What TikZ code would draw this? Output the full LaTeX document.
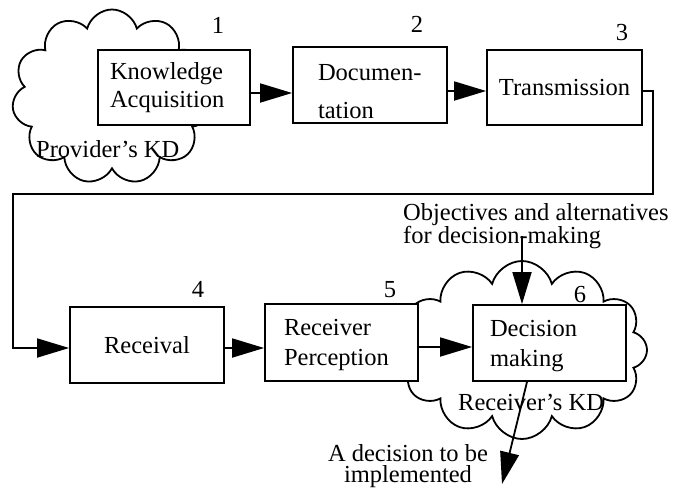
\documentclass[tikz,border=0pt]{standalone}
\usepackage{fontspec}
\setmainfont{Liberation Serif}
\usetikzlibrary{arrows.meta,shapes.symbols}
\begin{document}
\begin{tikzpicture}[x=1pt,y=-1pt,
  every node/.style={font=\fontsize{24.5}{28}\selectfont},
  stage/.style={draw, fill=white, line width=1.8pt, inner ysep=0pt},
  flow/.style={line width=1.8pt, -{Triangle[length=32pt,width=19pt]}},
  kd/.style={cloud, draw, line width=1.8pt, cloud ignores aspect, inner sep=0pt},
  num/.style={anchor=base, inner sep=0pt},
  note/.style={inner sep=0pt},
]
\useasboundingbox (0,0) rectangle (675,490);

% knowledge domains of provider and receiver
\node[kd, cloud puffs=11, minimum width=200pt, minimum height=175pt] (kdp) at (112,97) {};
\node[kd, cloud puffs=12, minimum width=250pt, minimum height=178pt] (kdr) at (522,350) {};

% process stages
\node[stage, minimum width=152pt, minimum height=75pt, text width=128pt, inner xsep=12pt, align=left]
  (b1) at (174,87.5) {Knowledge\\Acquisition};
\node[stage, minimum width=154pt, minimum height=76pt, text width=104pt, inner xsep=25pt, align=left,
  font=\fontsize{24.5}{38}\selectfont]
  (b2) at (370,85) {\rule{0pt}{30pt}Documen-\\tation};
\node[stage, minimum width=155pt, minimum height=75pt, align=center]
  (b3) at (564.5,87.5) {Transmission};
\node[stage, minimum width=154pt, minimum height=76pt, align=center]
  (b4) at (147,345) {Receival};
\node[stage, minimum width=153pt, minimum height=77pt, text width=115pt, inner xsep=19pt, align=left,
  font=\fontsize{24.5}{30}\selectfont]
  (b5) at (341.5,342.5) {\rule{0pt}{22pt}Receiver\\Perception};
\node[stage, minimum width=153pt, minimum height=76pt, text width=119pt, inner xsep=17pt, align=left,
  font=\fontsize{24.5}{30}\selectfont]
  (b6) at (549.5,343) {\rule{0pt}{22pt}Decision\\making};

% stage numbers
\node[num] (n1) at (218,33) {1};
\node[num] (n2) at (417,32) {2};
\node[num] (n3) at (622,40) {3};
\node[num] (n4) at (198,297) {4};
\node[num] (n5) at (390,297) {5};
\node[num] (n6) at (580,302) {6};

% flow levels and bends
\coordinate (ya) at (0,93);
\coordinate (yb) at (0,91);
\coordinate (loopr) at (653,194);
\coordinate (loopl) at (13,348);
\coordinate (yc) at (0,347);
\coordinate (objfoot) at (522,236);
\coordinate (outtop) at (527,381);
\coordinate (outend) at (502,484);

\draw[flow] (b1.east |- ya) -- (b2.west |- ya);
\draw[flow] (b2.east |- yb) -- (b3.west |- yb);
\draw[flow] (b3.east |- yb) -| (loopr) -| (loopl) -- (b4.west |- loopl);
\draw[flow] (b4.east |- loopl) -- (b5.west |- loopl);
\draw[flow] (b5.east |- yc) -- (b6.west |- yc);
\draw[flow] (objfoot) -- (b6.north -| objfoot);
\draw[flow] (b6.south -| outtop) -- (outend);

% free texts
\node[note, anchor=base west] (lp) at (36,157) {Provider's KD};
\node[note, anchor=base west] (lr) at (458,410) {Receiver's KD};
\node[note, anchor=west, align=left, font=\fontsize{24.5}{23.5}\selectfont] (obj) at (403,226)
  {Objectives and alternatives\\for decision-making};
\node[note, align=center, font=\fontsize{24.5}{21}\selectfont] (dec) at (408,466)
  {A decision to be\\implemented};
\end{tikzpicture}
\end{document}
